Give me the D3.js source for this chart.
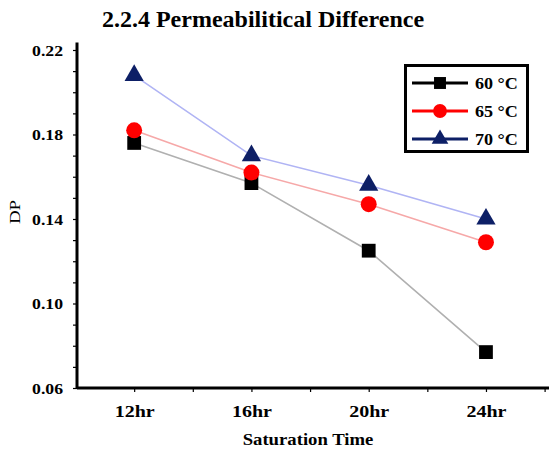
<!DOCTYPE html>
<html>
<head>
<meta charset="utf-8">
<script src="https://cdn.jsdelivr.net/npm/d3@7"></script>
<style>
  body { margin: 0; background: #fff; }
  svg text { font-family: "Liberation Serif", "Times New Roman", serif; font-weight: bold; fill: #000; }
</style>
</head>
<body>
<svg id="chart"></svg>
<script>
const hours = [12, 16, 20, 24];
const hourLabels = ["12hr", "16hr", "20hr", "24hr"];
const dp60 = [0.176, 0.157, 0.125, 0.077];
const dp65 = [0.182, 0.162, 0.147, 0.129];
const dp70 = [0.208, 0.170, 0.156, 0.140];
const seriesNames = ["60 \u00B0C", "65 \u00B0C", "70 \u00B0C"];
const yLabels = [0.06, 0.10, 0.14, 0.18, 0.22];

const width = 549;
const height = 449;

const svg = d3.select("#chart")
              .attr("width", width)
              .attr("height", height);

const x = d3.scaleLinear().domain([10.05, 26.15]).range([77, 549]);
const y = d3.scaleLinear().domain([0.06, 0.2235]).range([388, 42.6]);

const series = [
    {name: seriesNames[0], values: dp60, line: "#b0b0b0", mark: "#000000", legendLine: "#000000", shape: d3.symbolSquare, size: 190},
    {name: seriesNames[1], values: dp65, line: "#f6a8a8", mark: "#ff0000", legendLine: "#ff0000", shape: d3.symbolCircle, size: 200},
    {name: seriesNames[2], values: dp70, line: "#b0b4f4", mark: "#0d1f66", legendLine: "#0d1f66", shape: d3.symbolTriangle, size: 160}
];

// the source text is drawn a little wider than normal; stretch it horizontally
function stretch(sel, sx, px, py) {
    sel.attr("x", px / sx).attr("y", py).attr("transform", `scale(${sx},1)`);
}

// title
svg.append("text")
   .attr("x", 263)
   .attr("y", 27)
   .attr("text-anchor", "middle")
   .style("font-size", "24px")
   .text("2.2.4 Permeabilitical Difference");

// y axis
const yAxis = d3.axisLeft(y)
                .tickValues(d3.range(0.06, 0.2201, 0.01).map(v => +v.toFixed(2)))
                .tickSize(4)
                .tickFormat(v => yLabels.some(l => Math.abs(l - v) < 1e-6) ? v.toFixed(2) : "");

const gy = svg.append("g")
              .attr("transform", "translate(77,0)")
              .call(yAxis);
gy.select(".domain").attr("stroke-width", 3).attr("d", `M0,${y.range()[1]}V${y.range()[0]}`);
gy.selectAll(".tick line").attr("stroke-width", 1.2);
gy.selectAll(".tick text").style("font-size", "15px").attr("dy", "0.34em")
  .each(function() { stretch(d3.select(this), 1.18, -14, 0); });

// x axis
const xAxis = d3.axisBottom(x)
                .tickValues([12, 14, 16, 18, 20, 22, 24, 26])
                .tickSize(4)
                .tickFormat(v => {
                    const i = hours.indexOf(v);
                    return i >= 0 ? hourLabels[i] : "";
                });

const gx = svg.append("g")
              .attr("transform", "translate(0,388)")
              .call(xAxis);
gx.select(".domain").attr("stroke-width", 3).attr("d", `M${x.range()[0]},0H${x.range()[1]}`);
gx.selectAll(".tick line").attr("stroke-width", 1.2);
gx.selectAll(".tick text").style("font-size", "16px").attr("dy", null)
  .each(function() { stretch(d3.select(this), 1.25, 0, 29); });

// axis titles
stretch(svg.append("text")
   .attr("text-anchor", "middle")
   .style("font-size", "17px")
   .text("Saturation Time"), 1.1, 308, 445);

svg.append("g")
   .attr("transform", "translate(20,212) rotate(-90)")
   .append("text")
   .attr("text-anchor", "middle")
   .style("font-size", "14px")
   .style("font-weight", "normal")
   .attr("transform", "scale(1.35,1)")
   .text("DP");

// lines + markers
const line = d3.line()
               .x((d, i) => x(hours[i]))
               .y(d => y(d));

series.forEach(s => {
    svg.append("path")
       .datum(s.values)
       .attr("fill", "none")
       .attr("stroke", s.line)
       .attr("stroke-width", 1.6)
       .attr("d", line);

    svg.selectAll(null)
       .data(s.values)
       .enter()
       .append("path")
       .attr("d", d3.symbol().type(s.shape).size(s.size))
       .attr("transform", (d, i) => `translate(${x(hours[i])},${y(d)})`)
       .attr("fill", s.mark);
});

// legend
const legend = svg.append("g");
legend.append("rect")
      .attr("x", 405.5)
      .attr("y", 65.5)
      .attr("width", 122)
      .attr("height", 86)
      .attr("fill", "#fff")
      .attr("stroke", "#000")
      .attr("stroke-width", 3);

series.forEach((s, i) => {
    const ly = 83 + i * 28;
    legend.append("line")
          .attr("x1", 412)
          .attr("x2", 468)
          .attr("y1", ly)
          .attr("y2", ly)
          .attr("stroke", s.legendLine)
          .attr("stroke-width", 3);
    legend.append("path")
          .attr("d", d3.symbol().type(s.shape).size(s.size * 0.75))
          .attr("transform", `translate(440,${ly})`)
          .attr("fill", s.mark);
    stretch(legend.append("text")
          .style("font-size", "16px")
          .text(s.name), 1.13, 475, ly + 6);
});
</script>
</body>
</html>
